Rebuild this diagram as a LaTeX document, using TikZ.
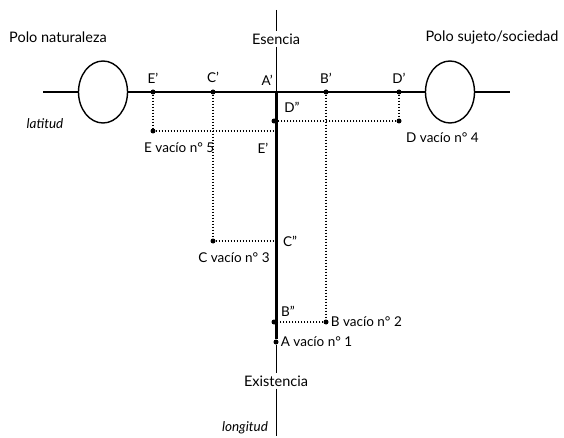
\documentclass[tikz,border=0pt]{standalone}
\usepackage{fontspec}
\setmainfont{Lato}
\usetikzlibrary{shapes.geometric,positioning}

\begin{document}
\begin{tikzpicture}[x=1pt, y=-1pt,
    pole/.style={ellipse, draw, line width=1.4pt, minimum width=49pt,
        minimum height=62pt, inner sep=0pt},
    axis/.style={line width=1.5pt},
    dot/.style={circle, fill, inner sep=0pt, minimum size=5pt},
    proj/.style={line width=1.4pt, dash pattern=on 1.3pt off 1.7pt},
    lbl/.style={font=\fontsize{13.5}{15}\selectfont, inner sep=1pt},
    title/.style={font=\fontsize{14.5}{17}\selectfont, inner sep=2pt}
]
    \useasboundingbox (0,0) rectangle (564,438);

    \node[pole] (natur) at (103,92) {};
    \node[pole] (sujeto) at (450,92) {};
    \coordinate (hl) at (43,92);
    \coordinate (hr) at (510,92);
    \draw[axis] (hl) -- (natur.west) (natur.east) -- (sujeto.west) (sujeto.east) -- (hr);

    \node[title] (esencia) at (276,39) {Esencia};
    \node[title] (exist) at (276,381) {Existencia};
    \coordinate (vtop) at (276,10);
    \coordinate (vbot) at (276,436);
    \coordinate (Ap) at (276,92);
    \node[dot] (A1) at (276,342) {};
    \draw[line width=1pt] (vtop) -- (esencia.north) (esencia.south) -- (Ap)
        (A1) -- (exist.north) (exist.south) -- (vbot);
    \draw[line width=3pt] (Ap) -- (A1);

    \node[dot] (Ep) at (153,92) {};
    \node[dot] (Cp) at (213,92) {};
    \node[dot] (Bp) at (326,92) {};
    \node[dot] (Dp) at (399,92) {};

    \node[dot] (E5) at (153,131) {};
    \node[dot] (C3) at (213,241) {};
    \node[dot] (B2) at (326,322) {};
    \node[dot] (D4) at (399,121) {};

    \node[dot] (Dpp) at (274,121) {};
    \coordinate (Epp) at (273,131);
    \coordinate (Cpp) at (276,241);
    \node[dot] (Bpp) at (274,322) {};

    \draw[proj] (Ep) -- (E5) -- (Epp);
    \draw[proj] (Cp) -- (C3) -- (Cpp);
    \draw[proj] (Bp) -- (B2) -- (Bpp);
    \draw[proj] (Dp) -- (D4) -- (Dpp);

    \node[lbl, above=5pt of Ep] {E'};
    \node[lbl, above=5pt of Cp] {C'};
    \node[lbl, above left=5pt and 2pt of Ap] {A'};
    \node[lbl, above=5pt of Bp] {B'};
    \node[lbl, above=5pt of Dp] {D'};

    \node[lbl] (Dpplbl) at (292,107) {D''};
    \node[lbl] (Epplbl) at (263,148) {E'};
    \node[lbl] (Cpplbl) at (290,241) {C''};
    \node[lbl] (Bpplbl) at (288,311) {B''};

    \node[lbl, anchor=west] (E5lbl) at (143,148) {E vacío n° 5};
    \node[lbl] (C3lbl) at (234,258) {C vacío n° 3};
    \node[lbl, right=1pt of B2] (B2lbl) {B vacío n° 2};
    \node[lbl, anchor=west] (D4lbl) at (405,138) {D vacío n° 4};
    \node[lbl, right=1pt of A1] (A1lbl) {A vacío n° 1};

    \node[title] (naturlbl) at (58,37) {Polo naturaleza};
    \node[title] (sujetolbl) at (492,37) {Polo sujeto/sociedad};
    \node[lbl, font=\fontsize{13.5}{15}\selectfont\itshape] (latitud) at (45,124) {latitud};
    \node[lbl, font=\fontsize{13.5}{15}\selectfont\itshape] (longitud) at (245,428) {longitud};
\end{tikzpicture}
\end{document}
